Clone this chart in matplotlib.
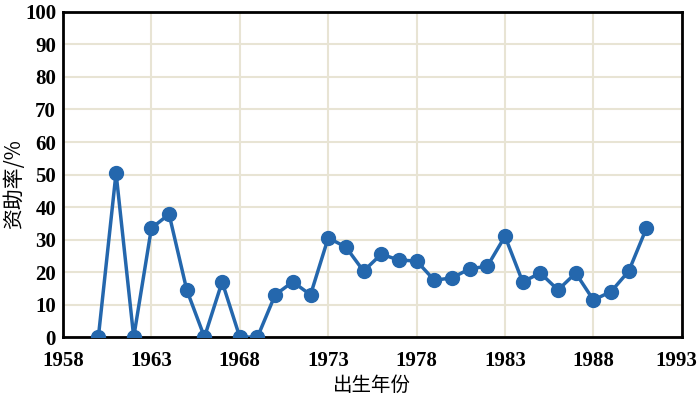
import matplotlib
matplotlib.use('Agg')
import matplotlib.pyplot as plt
import matplotlib.transforms as mtransforms

years = list(range(1960, 1992))
rates = [0, 50.5, 0, 33.5, 37.8, 14.5, 0, 17, 0, 0,
         13, 17, 13, 30.5, 27.7, 20.3, 25.5, 23.7, 23.4, 17.5,
         18.2, 21, 21.8, 31, 17, 19.7, 14.5, 19.7, 11.4, 14,
         20.3, 33.5]
x_ticks = [1958, 1963, 1968, 1973, 1978, 1983, 1988, 1993]
y_ticks = list(range(0, 101, 10))

num_font = {'family': 'Liberation Serif', 'weight': 'bold', 'size': 15}
cjk_font = ['Noto Sans CJK SC', 'Liberation Serif']

fig = plt.figure(figsize=(7, 3.98), dpi=100)
ax = fig.add_axes([0.09, 0.153, 0.884, 0.817])

ax.plot(years, rates, color='#2467ad', linewidth=2.5, marker='o',
        markersize=10, zorder=3)

ax.set_xlim(1958, 1993)
ax.set_ylim(0, 100)
ax.set_xticks(x_ticks)
ax.set_yticks(y_ticks)
ax.set_xticklabels([str(t) for t in x_ticks], fontdict=num_font)
ax.set_yticklabels([str(t) for t in y_ticks], fontdict=num_font)
ax.tick_params(axis='x', length=0, pad=10)
ax.tick_params(axis='y', length=0, pad=5)
ax.grid(True, color='#e8e4d4', linewidth=1.5, zorder=0)
ax.set_axisbelow(True)
for s in ax.spines.values():
    s.set_linewidth(2)
    s.set_color('black')

# 最右边的1993稍微左移，避免被裁掉
last = ax.get_xticklabels()[-1]
last.set_transform(last.get_transform() +
                   mtransforms.ScaledTranslation(-4 / 72, 0, fig.dpi_scale_trans))

ax.set_xlabel('出生年份', family=cjk_font, fontsize=14, labelpad=3)
ax.set_ylabel('资助率/%', family=cjk_font, fontsize=15)
ax.yaxis.set_label_coords(-0.062, 0.47)

fig.savefig('out.png', dpi=100)
